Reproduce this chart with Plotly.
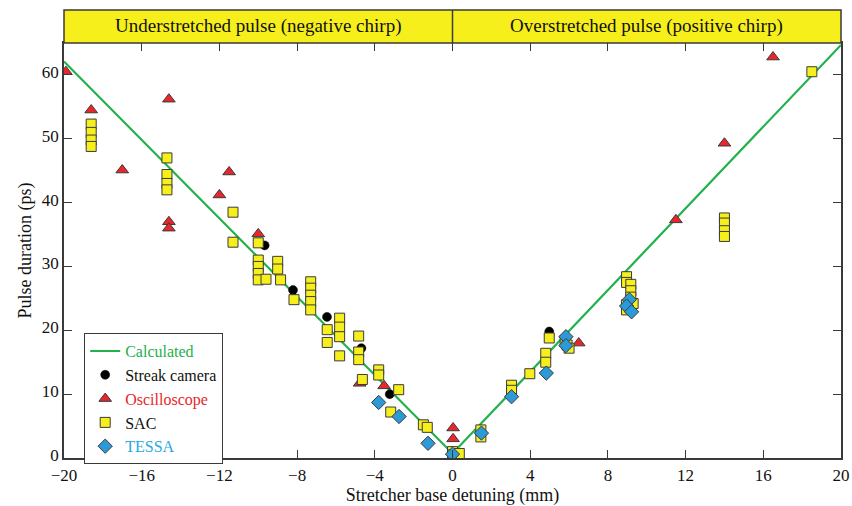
import plotly.graph_objects as go

# Calculated curve
calc_x = [-20, 0, 20]
calc_y = [62.1, 0.7, 64.7]

# Streak camera
streak_x = [-9.67, -8.21, -6.46, -4.69, -3.23, 0.0, 4.98]
streak_y = [33.3, 26.3, 22.1, 17.2, 10.0, 0.5, 19.8]

# Oscilloscope
osc_x = [-19.9, -18.6, -17.0, -14.6, -14.6, -14.6, -12.0, -11.5, -10.0, -4.78, -3.52, 0.03, 0.03, 6.5, 11.5, 14.0, 16.5]
osc_y = [60.5, 54.5, 45.1, 56.2, 37.0, 36.0, 41.2, 44.8, 35.1, 11.7, 11.3, 4.7, 3.0, 18.0, 37.3, 49.3, 62.8]

# SAC
sac_x = [-18.6, -18.6, -18.6, -18.6,
         -14.7, -14.7, -14.7, -14.7,
         -11.3, -11.3,
         -10.0, -10.0, -10.0, -10.0, -10.0,
         -9.6, -9.0, -9.0, -8.85, -8.16,
         -7.3, -7.3, -7.3, -7.3, -7.3,
         -6.45, -6.45,
         -5.81, -5.81, -5.81, -5.81,
         -4.83, -4.83, -4.83, -4.64,
         -3.8, -3.8, -2.77, -3.18,
         -1.5, -1.3,
         0.0, 0.0, 0.35,
         1.46, 1.46,
         3.04, 3.04, 3.98,
         4.8, 4.8, 4.98,
         5.8, 5.9, 6.0,
         8.96, 8.96, 9.18, 9.18, 9.18, 8.96, 9.3, 8.96,
         14.0, 14.0, 14.0, 14.0,
         18.5]
sac_y = [52.3, 51.0, 49.8, 48.8,
         47.0, 44.4, 43.0, 42.0,
         38.5, 33.8,
         33.7, 31.0, 30.0, 28.9, 27.9,
         28.0, 30.8, 29.6, 27.9, 24.8,
         27.6, 26.6, 25.5, 24.5, 23.2,
         20.1, 18.1,
         21.9, 20.5, 19.0, 16.0,
         19.1, 16.6, 15.4, 12.3,
         13.8, 13.0, 10.7, 7.2,
         5.2, 4.8,
         1.0, 0.5, 0.7,
         4.4, 3.3,
         11.4, 10.6, 13.2,
         16.4, 15.0, 18.8,
         18.4, 17.7, 17.2,
         28.4, 27.5, 27.2, 26.2, 25.2, 24.0, 24.2, 23.2,
         37.6, 36.8, 35.6, 34.7,
         60.5]

# TESSA
tessa_x = [-3.8, -2.75, -1.26, 0.0, 1.49, 3.04, 4.83, 5.84, 5.84, 9.1, 8.96, 9.22]
tessa_y = [8.7, 6.5, 2.3, 0.6, 3.9, 9.6, 13.3, 19.0, 17.6, 24.8, 23.8, 22.9]

x_ticks = [-20, -16, -12, -8, -4, 0, 4, 8, 12, 16, 20]
y_ticks = [0, 10, 20, 30, 40, 50, 60]

GREEN = "#22b14c"
RED = "#e8262b"
YELLOW = "#f7ef1c"
BLUE = "#2b9ad6"
EDGE = "#3a3a3a"
FONT = "Liberation Serif, Times New Roman, serif"

fig = go.Figure()
fig.add_trace(go.Scatter(x=calc_x, y=calc_y, mode="lines",
                         line=dict(color=GREEN, width=2.2),
                         name=f'<span style="color:{GREEN}">Calculated</span>'))
fig.add_trace(go.Scatter(x=streak_x, y=streak_y, mode="markers",
                         marker=dict(symbol="circle", size=9, color="black",
                                     line=dict(color="black", width=0.5)),
                         name="Streak camera"))
fig.add_trace(go.Scatter(x=osc_x, y=osc_y, mode="markers",
                         marker=dict(symbol="triangle-up", size=11, color=RED,
                                     line=dict(color=EDGE, width=1)),
                         name=f'<span style="color:{RED}">Oscilloscope</span>'))
fig.add_trace(go.Scatter(x=sac_x, y=sac_y, mode="markers",
                         marker=dict(symbol="square", size=10, color=YELLOW,
                                     line=dict(color=EDGE, width=1)),
                         name="SAC"))
fig.add_trace(go.Scatter(x=tessa_x, y=tessa_y, mode="markers",
                         marker=dict(symbol="diamond", size=11, color=BLUE,
                                     line=dict(color=EDGE, width=1)),
                         name='<span style="color:#29a8e0">TESSA</span>'))

# Top banner
band_top = 1 + 33 / 415
fig.add_shape(type="rect", xref="paper", yref="paper", x0=0, x1=1, y0=1, y1=band_top,
              fillcolor=YELLOW, line=dict(color=EDGE, width=1.5), layer="above")
fig.add_shape(type="line", xref="x", yref="paper", x0=0, x1=0, y0=1, y1=band_top,
              line=dict(color=EDGE, width=1.5), layer="above")
mid = (1 + band_top) / 2
fig.add_annotation(x=-10, y=mid, xref="x", yref="paper", showarrow=False,
                   text="Understretched pulse (negative chirp)",
                   font=dict(family=FONT, size=19, color="#111"), yanchor="middle")
fig.add_annotation(x=10, y=mid, xref="x", yref="paper", showarrow=False,
                   text="Overstretched pulse (positive chirp)",
                   font=dict(family=FONT, size=19, color="#111"), yanchor="middle")

fig.update_layout(
    width=852, height=506,
    margin=dict(l=64, r=11, t=43, b=48, autoexpand=False),
    plot_bgcolor="white", paper_bgcolor="white",
    font=dict(family=FONT, size=17, color="#111"),
    showlegend=True,
    legend=dict(x=0.026, y=0.301, xanchor="left", yanchor="top",
                bgcolor="white", bordercolor=EDGE, borderwidth=1,
                font=dict(family=FONT, size=16, color="#111"),
                tracegroupgap=0, itemwidth=30),
)
fig.update_xaxes(range=[-20, 20], tickvals=x_ticks, ticks="inside", ticklen=8,
                 tickcolor=EDGE, showline=True, linecolor=EDGE, linewidth=1.5,
                 mirror="ticks", showgrid=False, zeroline=False, automargin=False,
                 ticklabelstandoff=1,
                 title=dict(text="Stretcher base detuning (mm)", standoff=10,
                            font=dict(family=FONT, size=18)),
                 tickfont=dict(family=FONT, size=17))
fig.update_yaxes(range=[0, 65], tickvals=y_ticks, ticks="inside", ticklen=8,
                 tickcolor=EDGE, showline=True, linecolor=EDGE, linewidth=1.5,
                 mirror="ticks", showgrid=False, zeroline=False, automargin=False,
                 ticklabelshift=-3,
                 title=dict(text="Pulse duration (ps)", standoff=6,
                            font=dict(family=FONT, size=18)),
                 tickfont=dict(family=FONT, size=17))

fig.write_html("out.html")
